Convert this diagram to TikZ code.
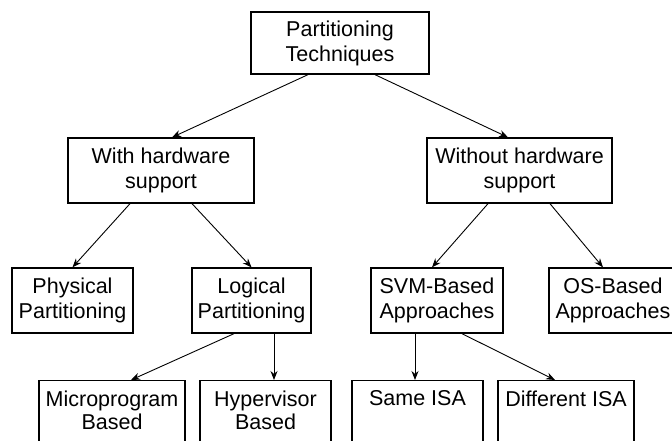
\documentclass[tikz,border=0pt]{standalone}
\usepackage{fontspec}
\setmainfont{Liberation Sans}
\usetikzlibrary{arrows.meta}

\begin{document}
\begin{tikzpicture}[>={Stealth[length=9pt,width=7pt]}, x=1pt, y=-1pt,
  box/.style={draw, line width=1.3pt, align=center, inner sep=0pt,
    minimum height=65pt, font=\fontsize{21.5}{25}\selectfont},
  leaf/.style={box, anchor=north, minimum height=0pt, inner ysep=10pt,
    text depth=30pt, font=\fontsize{21.5}{23}\selectfont},
  link/.style={->, line width=0.9pt}]
  \useasboundingbox (0,0) rectangle (672,440);
  % tree of boxes
  \node[box, minimum width=178pt, minimum height=62pt] (top) at (340,43)
    {Partitioning\\Techniques};
  \node[box, minimum width=186pt] (whs) at (161,170.5) {With hardware\\support};
  \node[box, minimum width=185pt] (wohs) at (519.5,170.5) {Without hardware\\support};
  \node[box, minimum width=121pt] (phys) at (72.5,300.5) {Physical\\Partitioning};
  \node[box, minimum width=119pt] (logic) at (251.5,300.5) {Logical\\Partitioning};
  \node[box, minimum width=132pt] (svm) at (437,300.5) {SVM-Based\\Approaches};
  \node[box, minimum width=128pt] (os) at (613,300.5) {OS-Based\\Approaches};
  \node[leaf, minimum width=146pt] (micro) at (112,380) {Microprogram\\Based};
  \node[leaf, minimum width=131pt] (hyper) at (265.5,380) {Hypervisor\\Based};
  \node[leaf, minimum width=131pt] (same) at (417.5,380) {Same ISA\\\mbox{}};
  \node[leaf, minimum width=136pt] (diff) at (566,380) {Different ISA\\\mbox{}};
  % arrows
  \draw[link] ([xshift=-32pt]top.south) -- ([xshift=11pt]whs.north);
  \draw[link] ([xshift=35pt]top.south) -- ([xshift=-11.5pt]wohs.north);
  \draw[link] ([xshift=-31pt]whs.south) -- (phys.north);
  \draw[link] ([xshift=31pt]whs.south) -- (logic.north);
  \draw[link] ([xshift=-31.5pt]wohs.south) -- ([xshift=-5pt]svm.north);
  \draw[link] ([xshift=30.5pt]wohs.south) -- ([xshift=-10pt]os.north);
  \draw[link] ([xshift=-17.5pt]logic.south) -- ([xshift=19pt]micro.north);
  \draw[link] ([xshift=22.5pt]logic.south) -- ([xshift=22.5pt]logic.south |- hyper.north);
  \draw[link] ([xshift=-22pt]svm.south) -- ([xshift=-22pt]svm.south |- same.north);
  \draw[link] ([xshift=25pt]svm.south) -- ([xshift=-11pt]diff.north);
\end{tikzpicture}
\end{document}
